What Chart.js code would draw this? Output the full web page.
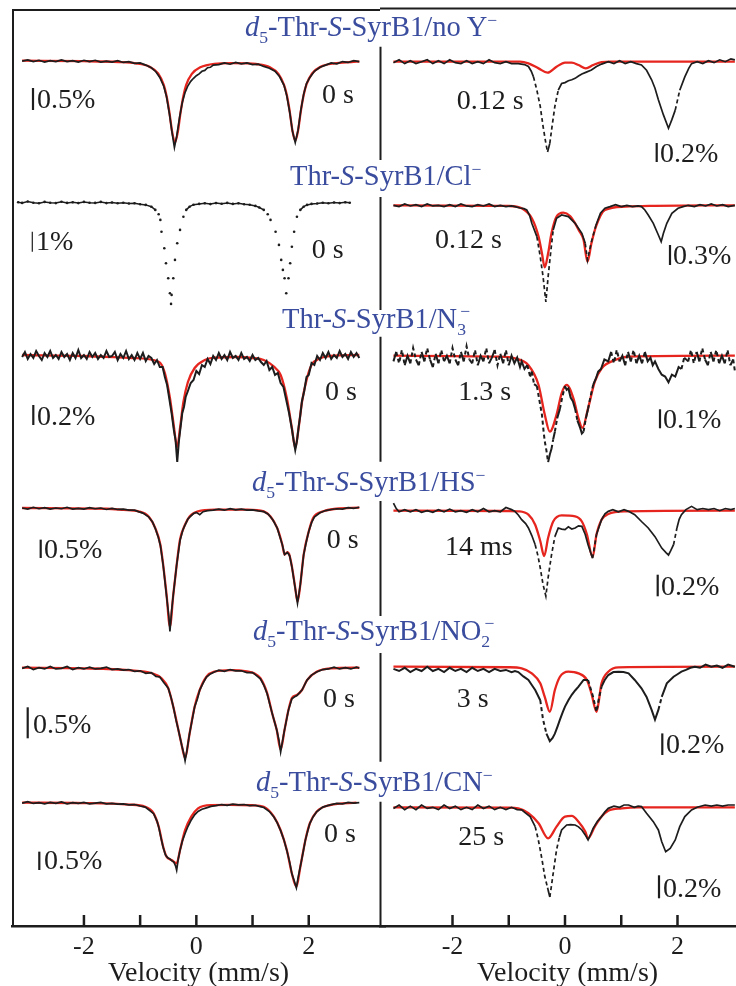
<!DOCTYPE html>
<html>
<head>
<meta charset="utf-8">
<title>Mossbauer spectra</title>
<script src="https://cdn.jsdelivr.net/npm/chart.js"></script>
<style>
  body { margin: 0; background: #fff; }
  #fig { position: relative; width: 736px; height: 986px; overflow: hidden; background: #fff; }
  canvas { position: absolute; top: 0; }
  .ttl { position: absolute; white-space: nowrap; font-family: "Liberation Serif"; font-size: 28.5px; line-height: 28px; color: #3a4c9e; }
  .ttl sub, .ttl sup { font-size: 0.62em; line-height: 0; }
</style>
</head>
<body>
<div id="fig">
  <canvas id="leftCol" width="389" height="990" style="left:0"></canvas>
  <canvas id="rightCol" width="385" height="990" style="left:370px"></canvas>
</div>
<script>
// x ticks (mm/s)
const velTicks = [-2, -1, 0, 1, 2];

// spectra as [velocity (mm/s), absorption (%)]
// left column, 0 s
const l1Data = [[-3.1,.01],[-3,-.02],[-2.9,.02],[-2.8,-.01],[-2.7,.03],[-2.6,0],[-2.5,.02],[-2.4,-.02],[-2.3,.02],[-2.2,0],[-2.1,.03],[-2,-.01],[-1.9,.02],[-1.8,-.01],[-1.7,.03],[-1.6,.01],[-1.5,.03],[-1.4,0],[-1.3,.04],[-1.2,.02],[-1.1,.06],[-1,.05],[-.9,.1],[-.8,.16],[-.72,.25],[-.65,.38],[-.58,.58],[-.53,.82],[-.48,1.2],[-.43,1.65],[-.39,1.97],[-.35,1.72],[-.3,1.3],[-.25,.95],[-.2,.72],[-.15,.57],[-.1,.47],[-.05,.4],[0,.34],[.05,.3],[.1,.24],[.15,.22],[.2,.16],[.25,.15],[.3,.1],[.4,.09],[.5,.05],[.6,.08],[.7,.04],[.8,.07],[.9,.05],[1,.09],[1.1,.08],[1.2,.13],[1.3,.17],[1.4,.24],[1.48,.36],[1.56,.56],[1.61,.8],[1.66,1.16],[1.71,1.6],[1.76,1.86],[1.81,1.58],[1.86,1.12],[1.91,.76],[1.96,.52],[2.02,.38],[2.1,.24],[2.2,.15],[2.3,.1],[2.4,.05],[2.5,.07],[2.6,.02],[2.7,.04],[2.8,0],[2.9,.02]];
const l1Fit = [[-3.1,0],[-2,.01],[-1.38,.03],[-1.08,.06],[-.83,.14],[-.68,.29],[-.58,.55],[-.53,.8],[-.48,1.17],[-.43,1.62],[-.38,1.86],[-.33,1.62],[-.28,1.17],[-.23,.8],[-.18,.55],[-.08,.3],[.07,.15],[.32,.07],[.62,.055],[.9,.06],[1.06,.075],[1.31,.15],[1.46,.3],[1.56,.55],[1.61,.78],[1.66,1.14],[1.71,1.59],[1.76,1.82],[1.81,1.59],[1.86,1.14],[1.91,.78],[1.96,.54],[2.06,.29],[2.21,.14],[2.46,.06],[2.76,.03],[2.9,.02]];

const l2Data = [[-3.17,0],[-3.1,.03],[-3,-.04],[-2.9,.02],[-2.8,.05],[-2.7,-.02],[-2.6,.02],[-2.5,.04],[-2.4,-.03],[-2.3,.03],[-2.2,0],[-2.1,.04],[-2,-.02],[-1.9,.02],[-1.8,.03],[-1.7,-.02],[-1.6,.04],[-1.5,.01],[-1.4,.05],[-1.3,.02],[-1.2,.06],[-1.1,.05],[-1,.1],[-.9,.13],[-.8,.22],[-.73,.38],[-.67,.6],[-.64,.88],[-.62,1.47],[-.57,2.3],[-.54,3.05],[-.5,3.8],[-.47,4.55],[-.45,5.08],[-.44,4.63],[-.41,3.8],[-.38,2.88],[-.34,2.05],[-.29,1.38],[-.23,.72],[-.18,.38],[-.12,.22],[-.05,.12],[.05,.08],[.15,.05],[.25,.09],[.35,.04],[.45,.07],[.55,.03],[.65,.08],[.75,.05],[.85,.1],[.95,.12],[1.05,.18],[1.12,.26],[1.2,.38],[1.27,.6],[1.32,.88],[1.41,1.47],[1.47,2.13],[1.51,2.88],[1.54,3.38],[1.57,3.8],[1.6,4.55],[1.64,3.8],[1.67,3.05],[1.7,2.22],[1.74,1.47],[1.79,.72],[1.85,.38],[1.91,.22],[1.97,.13],[2.05,.08],[2.15,.06],[2.25,.02],[2.35,.05],[2.45,.01],[2.55,.04],[2.65,0],[2.73,.02]];

const l3Data = [[-3.1,.02],[-3.05,-.03],[-3,.04],[-2.95,-.01],[-2.9,.03],[-2.85,-.04],[-2.8,.01],[-2.75,.05],[-2.7,-.02],[-2.65,.02],[-2.6,-.04],[-2.55,.03],[-2.5,0],[-2.45,.04],[-2.4,-.03],[-2.35,.02],[-2.3,-.01],[-2.25,.05],[-2.2,-.02],[-2.15,.03],[-2.1,-.05],[-2.05,.03],[-2,0],[-1.95,.04],[-1.9,-.03],[-1.85,.02],[-1.8,-.02],[-1.75,.04],[-1.7,0],[-1.65,.03],[-1.6,-.04],[-1.55,.02],[-1.5,.01],[-1.45,-.03],[-1.4,.05],[-1.35,-.01],[-1.3,.03],[-1.25,-.04],[-1.2,.04],[-1.15,0],[-1.1,.05],[-1.05,-.02],[-1,.04],[-.95,-.02],[-.9,.06],[-.85,.01],[-.8,.03],[-.75,.09],[-.7,.05],[-.65,.12],[-.6,.12],[-.56,.22],[-.52,.3],[-.48,.44],[-.44,.58],[-.4,.75],[-.37,.85],[-.34,1.07],[-.31,.86],[-.28,.72],[-.25,.58],[-.22,.52],[-.19,.42],[-.15,.36],[-.1,.28],[-.05,.25],[0,.16],[.05,.19],[.1,.1],[.15,.12],[.2,.04],[.25,.09],[.3,.01],[.35,.05],[.4,-.02],[.45,.04],[.5,0],[.55,.05],[.6,-.03],[.65,.03],[.7,.01],[.75,.05],[.8,-.02],[.85,.04],[.9,.02],[.95,.06],[1,0],[1.05,.05],[1.1,.03],[1.15,.07],[1.2,.1],[1.25,.06],[1.3,.15],[1.35,.12],[1.4,.2],[1.45,.18],[1.5,.28],[1.55,.32],[1.6,.45],[1.65,.58],[1.7,.74],[1.73,.85],[1.76,.95],[1.79,.86],[1.82,.72],[1.85,.6],[1.88,.46],[1.92,.36],[1.96,.22],[2,.2],[2.05,.08],[2.1,.1],[2.15,.01],[2.2,.05],[2.25,-.02],[2.3,.03],[2.35,-.03],[2.4,.04],[2.45,0],[2.5,.03],[2.55,-.04],[2.6,.02],[2.65,-.01],[2.7,.04],[2.75,-.03],[2.8,.02],[2.85,-.02],[2.9,.03]];
const l3Fit = [[-3.1,0],[-2,.01],[-1.14,.03],[-.67,.067],[-.56,.18],[-.47,.43],[-.41,.67],[-.34,.92],[-.29,.73],[-.23,.47],[-.15,.27],[-.03,.13],[.15,.05],[.32,.027],[.7,.02],[1,.03],[1.2,.05],[1.38,.117],[1.5,.2],[1.61,.43],[1.7,.73],[1.76,.93],[1.82,.73],[1.88,.47],[1.97,.23],[2.05,.1],[2.2,.033],[2.38,.01],[2.9,0]];

const l4Data = [[-3.1,0],[-3,.03],[-2.9,-.02],[-2.8,.02],[-2.7,-.01],[-2.6,.03],[-2.5,0],[-2.4,.02],[-2.3,-.02],[-2.2,.03],[-2.1,.01],[-2,.03],[-1.9,-.01],[-1.8,.02],[-1.7,0],[-1.6,.04],[-1.5,.01],[-1.4,.04],[-1.3,.03],[-1.2,.06],[-1.1,.06],[-1.03,.1],[-.95,.14],[-.85,.24],[-.78,.38],[-.73,.56],[-.68,.78],[-.64,1.02],[-.59,1.56],[-.53,2.4],[-.49,2.95],[-.47,3.36],[-.44,2.8],[-.41,2.36],[-.35,1.55],[-.29,.88],[-.24,.6],[-.2,.46],[-.15,.3],[-.1,.22],[-.05,.15],[0,.12],[.06,.18],[.12,.1],[.2,.07],[.3,.06],[.4,.03],[.5,.06],[.6,.02],[.7,.05],[.8,.03],[.9,.06],[1,.05],[1.1,.08],[1.2,.1],[1.28,.17],[1.36,.32],[1.44,.55],[1.5,.85],[1.53,1],[1.57,1.27],[1.62,1.21],[1.66,1.3],[1.7,1.6],[1.76,2.2],[1.8,2.6],[1.85,2.09],[1.91,1.27],[1.96,.9],[2,.64],[2.05,.4],[2.1,.25],[2.2,.13],[2.3,.07],[2.4,.04],[2.5,.02],[2.6,.03],[2.7,-.01],[2.8,.01],[2.9,-.02]];
const l4Fit = [[-3.1,0],[-1.6,.02],[-1.3,.05],[-1.03,.09],[-.85,.23],[-.73,.55],[-.64,1],[-.59,1.55],[-.53,2.36],[-.47,3.23],[-.41,2.36],[-.35,1.55],[-.29,.86],[-.2,.45],[-.12,.23],[.03,.09],[.32,.045],[.91,.045],[1.2,.09],[1.32,.23],[1.44,.55],[1.53,1],[1.57,1.27],[1.62,1.2],[1.65,1.25],[1.7,1.59],[1.76,2.18],[1.8,2.55],[1.85,2.09],[1.91,1.27],[2,.64],[2.08,.27],[2.26,.09],[2.49,.02],[2.9,-.01]];

const l5Data = [[-3.1,.01],[-3,-.02],[-2.9,.03],[-2.8,0],[-2.7,.02],[-2.6,-.02],[-2.5,.02],[-2.4,.01],[-2.3,-.02],[-2.2,.03],[-2.1,0],[-2,.02],[-1.9,-.01],[-1.8,.02],[-1.7,.01],[-1.6,-.01],[-1.5,.03],[-1.4,.02],[-1.3,.04],[-1.2,.03],[-1.1,.06],[-1,.05],[-.9,.09],[-.8,.08],[-.72,.14],[-.65,.15],[-.58,.24],[-.5,.33],[-.45,.48],[-.41,.63],[-.36,.85],[-.32,1],[-.26,1.25],[-.22,1.4],[-.2,1.5],[-.17,1.35],[-.12,1.06],[-.07,.82],[-.03,.63],[.02,.5],[.06,.36],[.12,.25],[.18,.15],[.25,.1],[.32,.07],[.4,.04],[.5,.06],[.6,.03],[.7,.05],[.8,.05],[.9,.08],[1,.08],[1.06,.12],[1.14,.18],[1.2,.28],[1.26,.42],[1.31,.6],[1.35,.74],[1.43,1],[1.47,1.17],[1.5,1.36],[1.53,1.2],[1.57,1],[1.64,.68],[1.7,.5],[1.75,.47],[1.79,.45],[1.84,.4],[1.88,.36],[1.93,.27],[1.97,.2],[2.05,.12],[2.14,.07],[2.25,.03],[2.35,.02],[2.45,-.01],[2.55,.02],[2.65,0],[2.75,.02],[2.85,-.01],[2.9,.01]];
const l5Fit = [[-3.1,0],[-2,.01],[-1.2,.04],[-.79,.09],[-.62,.17],[-.5,.33],[-.41,.63],[-.32,1],[-.26,1.25],[-.2,1.46],[-.12,1.06],[-.03,.63],[.06,.36],[.18,.145],[.32,.065],[.62,.04],[.9,.06],[1.03,.09],[1.14,.17],[1.26,.41],[1.35,.74],[1.43,1],[1.5,1.32],[1.57,1],[1.64,.68],[1.7,.49],[1.79,.44],[1.88,.36],[1.97,.2],[2.14,.065],[2.38,.01],[2.9,0]];

const l6Data = [[-3.1,.01],[-3,-.03],[-2.9,.02],[-2.8,0],[-2.7,.03],[-2.6,-.01],[-2.5,.02],[-2.4,-.02],[-2.3,.03],[-2.2,0],[-2.1,.02],[-2,-.01],[-1.9,.03],[-1.8,.01],[-1.7,-.01],[-1.6,.03],[-1.5,.02],[-1.4,.04],[-1.3,.03],[-1.2,.06],[-1.1,.05],[-1,.09],[-.91,.12],[-.84,.2],[-.76,.3],[-.7,.5],[-.67,.66],[-.63,.95],[-.59,1.22],[-.55,1.42],[-.51,1.5],[-.47,1.53],[-.44,1.58],[-.4,1.62],[-.37,1.72],[-.35,1.84],[-.32,1.52],[-.29,1.3],[-.25,1.05],[-.2,.84],[-.15,.65],[-.09,.47],[-.03,.33],[.03,.24],[.1,.18],[.18,.14],[.26,.1],[.35,.08],[.45,.05],[.55,.07],[.65,.04],[.75,.06],[.85,.05],[.95,.08],[1.05,.07],[1.12,.1],[1.2,.13],[1.3,.24],[1.38,.39],[1.44,.55],[1.5,.76],[1.56,1.02],[1.61,1.3],[1.66,1.62],[1.7,1.94],[1.74,2.12],[1.78,2.32],[1.81,2.05],[1.85,1.74],[1.9,1.35],[1.94,1.02],[1.98,.78],[2.02,.56],[2.08,.38],[2.14,.25],[2.25,.12],[2.38,.06],[2.5,.02],[2.6,.03],[2.7,-.01],[2.8,.01],[2.9,0]];
const l6Fit = [[-3.1,0],[-2,.01],[-1.2,.05],[-.91,.11],[-.76,.29],[-.67,.65],[-.59,1.2],[-.53,1.47],[-.44,1.56],[-.35,1.65],[-.29,1.29],[-.2,.75],[-.09,.38],[.03,.155],[.26,.064],[.6,.06],[1,.07],[1.2,.11],[1.38,.38],[1.5,.75],[1.61,1.29],[1.7,1.93],[1.78,2.29],[1.85,1.75],[1.94,1.02],[2.02,.56],[2.14,.245],[2.38,.064],[2.85,0]];

// right column, freeze-quenched
const r1Data = [[-3.05,.01],[-2.95,-.02],[-2.85,.02],[-2.75,-.01],[-2.65,.02],[-2.55,0],[-2.45,-.02],[-2.35,.02],[-2.25,-.01],[-2.15,.02],[-2.05,-.02],[-1.95,.01],[-1.85,.02],[-1.75,-.01],[-1.65,.02],[-1.55,0],[-1.45,.02],[-1.35,-.02],[-1.25,.01],[-1.15,.02],[-1.05,0],[-.95,.02],[-.83,.02],[-.72,.03],[-.65,.05],[-.6,.1],[-.56,.16],[-.5,.3],[-.44,.47],[-.39,.68],[-.34,.86],[-.31,.95],[-.27,.86],[-.23,.68],[-.18,.47],[-.12,.3],[-.06,.23],[0,.22],[.06,.2],[.12,.19],[.18,.175],[.24,.15],[.3,.13],[.38,.11],[.47,.088],[.56,.05],[.65,.025],[.77,0],[.87,.02],[.97,-.01],[1.07,.02],[1.17,0],[1.27,.02],[1.36,.035],[1.45,.09],[1.54,.19],[1.6,.28],[1.66,.4],[1.75,.56],[1.84,.7],[1.9,.61],[1.96,.51],[2.04,.3],[2.13,.16],[2.2,.07],[2.25,.02],[2.35,0],[2.45,.02],[2.55,-.01],[2.65,.01],[2.75,-.02],[2.85,0],[2.95,-.03],[3.02,-.02]];
const r1Fit = [[-3.05,0],[-.8,0],[-.65,.018],[-.47,.07],[-.31,.116],[-.15,.053],[0,.01],[.12,.01],[.24,.035],[.37,.07],[.5,.035],[.65,.004],[.8,0],[3.02,0]];

const r2Data = [[-3.05,0],[-2.95,.02],[-2.85,-.02],[-2.75,.01],[-2.65,-.01],[-2.55,.02],[-2.45,-.02],[-2.35,.01],[-2.25,0],[-2.15,.02],[-2.05,-.01],[-1.95,.02],[-1.85,-.02],[-1.75,.01],[-1.65,.02],[-1.55,-.01],[-1.45,.01],[-1.35,-.02],[-1.25,.02],[-1.15,0],[-1.05,.02],[-.95,.01],[-.89,.02],[-.8,.04],[-.73,.05],[-.68,.07],[-.63,.15],[-.59,.27],[-.5,.47],[-.44,.77],[-.39,1.07],[-.34,1.45],[-.3,1.07],[-.25,.67],[-.21,.37],[-.15,.195],[-.06,.145],[.06,.17],[.18,.27],[.3,.42],[.36,.57],[.4,.82],[.47,.545],[.55,.3],[.63,.12],[.71,.045],[.8,.02],[.9,-.01],[1,.02],[1.1,0],[1.2,.02],[1.3,.01],[1.36,.02],[1.42,.07],[1.48,.145],[1.57,.27],[1.66,.445],[1.71,.545],[1.75,.42],[1.81,.27],[1.9,.12],[2.01,.045],[2.1,.02],[2.19,0],[2.3,.02],[2.4,-.01],[2.5,.01],[2.6,-.02],[2.7,.01],[2.8,-.01],[2.9,.02],[3.02,0]];
const r2Fit = [[-3.05,0],[-1,.01],[-.77,.045],[-.59,.195],[-.47,.47],[-.41,.72],[-.36,.93],[-.3,.72],[-.24,.42],[-.15,.17],[-.03,.11],[.09,.16],[.18,.27],[.25,.38],[.33,.52],[.4,.845],[.47,.57],[.55,.32],[.71,.07],[1.07,.02],[1.5,.01],[3.02,0]];

const r3Data = [[-3.05,.03],[-3,-.02],[-2.95,.04],[-2.9,-.03],[-2.85,.05],[-2.8,0],[-2.75,.04],[-2.7,-.04],[-2.65,.02],[-2.6,.05],[-2.55,-.02],[-2.5,.03],[-2.45,-.04],[-2.4,.02],[-2.35,.06],[-2.3,-.01],[-2.25,.04],[-2.2,-.03],[-2.15,.03],[-2.1,0],[-2.05,.04],[-2,-.04],[-1.95,.02],[-1.9,.05],[-1.85,-.02],[-1.8,.03],[-1.75,-.05],[-1.7,.02],[-1.65,.04],[-1.6,-.03],[-1.55,.05],[-1.5,0],[-1.45,.03],[-1.4,-.04],[-1.35,.04],[-1.3,.01],[-1.25,-.03],[-1.2,.05],[-1.15,-.01],[-1.1,.04],[-1.05,-.03],[-1,.05],[-.95,0],[-.9,.04],[-.85,.01],[-.8,.06],[-.77,.03],[-.72,.07],[-.67,.05],[-.62,.11],[-.59,.084],[-.55,.15],[-.5,.16],[-.47,.21],[-.44,.26],[-.41,.31],[-.38,.4],[-.36,.45],[-.33,.5],[-.3,.56],[-.27,.52],[-.24,.49],[-.21,.44],[-.18,.4],[-.14,.33],[-.09,.28],[-.05,.22],[0,.16],[.03,.18],[.06,.172],[.1,.22],[.14,.24],[.18,.28],[.22,.34],[.27,.38],[.3,.41],[.33,.4],[.37,.33],[.41,.28],[.45,.22],[.5,.154],[.55,.12],[.59,.084],[.64,.07],[.7,.02],[.77,.03],[.82,-.02],[.87,.04],[.92,-.03],[.97,.03],[1.02,0],[1.07,.05],[1.12,-.02],[1.17,.03],[1.22,-.03],[1.27,.04],[1.32,0],[1.37,.04],[1.42,-.02],[1.47,.03],[1.52,.01],[1.56,.05],[1.6,.03],[1.66,.07],[1.72,.1],[1.78,.11],[1.84,.14],[1.9,.1],[1.96,.11],[2.02,.06],[2.07,.07],[2.12,.01],[2.19,.03],[2.24,-.03],[2.29,.04],[2.34,-.02],[2.39,.03],[2.44,-.04],[2.49,.02],[2.54,.05],[2.59,-.02],[2.64,.03],[2.69,-.03],[2.74,.04],[2.79,0],[2.84,.04],[2.89,-.03],[2.94,.05],[2.99,.02],[3.02,.08]];
const r3Fit = [[-3.05,0],[-1.2,.005],[-.89,.014],[-.65,.05],[-.47,.154],[-.36,.31],[-.27,.4],[-.15,.31],[-.06,.198],[.03,.154],[.15,.225],[.24,.33],[.31,.38],[.41,.277],[.53,.137],[.65,.067],[.89,.023],[1.13,.005],[3.02,0]];

const r4Data = [[-3.05,-.07],[-3,-.02],[-2.95,.01],[-2.85,-.01],[-2.75,.01],[-2.65,-.01],[-2.55,.015],[-2.45,0],[-2.35,.015],[-2.25,-.01],[-2.15,.01],[-2.05,-.015],[-1.95,.01],[-1.85,0],[-1.75,.015],[-1.65,-.01],[-1.55,.01],[-1.45,-.02],[-1.35,.01],[-1.25,0],[-1.15,.01],[-1.05,-.03],[-.95,-.01],[-.89,.006],[-.83,.04],[-.77,.083],[-.7,.12],[-.65,.16],[-.59,.23],[-.53,.315],[-.48,.42],[-.44,.53],[-.39,.685],[-.34,.79],[-.3,.62],[-.24,.41],[-.18,.24],[-.12,.16],[-.06,.17],[0,.176],[.06,.15],[.12,.17],[.18,.16],[.24,.14],[.3,.145],[.36,.22],[.41,.315],[.49,.44],[.56,.22],[.65,.083],[.71,.03],[.77,.006],[.85,-.01],[.95,.01],[1.05,-.01],[1.13,.006],[1.24,.037],[1.36,.1],[1.48,.16],[1.6,.24],[1.72,.346],[1.8,.39],[1.84,.41],[1.88,.37],[1.93,.315],[1.99,.16],[2.03,.08],[2.07,.037],[2.15,-.01],[2.25,-.04],[2.35,-.01],[2.45,-.02],[2.55,-.01],[2.65,-.02],[2.75,0],[2.85,-.02],[2.95,-.01],[3.02,-.02]];
const r4Fit = [[-3.05,0],[-1,.003],[-.83,.006],[-.65,.037],[-.53,.13],[-.44,.28],[-.37,.42],[-.3,.25],[-.21,.1],[-.06,.043],[.18,.052],[.3,.1],[.39,.22],[.49,.43],[.56,.22],[.65,.083],[.77,.03],[1.07,.006],[3.02,0]];

const r5Data = [[-3.05,.02],[-2.95,.04],[-2.85,.01],[-2.75,.05],[-2.65,.02],[-2.55,.04],[-2.45,0],[-2.35,.04],[-2.25,.02],[-2.15,.05],[-2.05,.01],[-1.95,.04],[-1.85,.02],[-1.75,.05],[-1.65,.01],[-1.55,.04],[-1.45,.02],[-1.35,.05],[-1.25,.02],[-1.15,.04],[-1.05,.03],[-.95,.05],[-.89,.04],[-.83,.05],[-.74,.09],[-.65,.123],[-.59,.17],[-.53,.216],[-.44,.31],[-.39,.49],[-.33,.62],[-.27,.69],[-.22,.66],[-.18,.62],[-.13,.55],[-.09,.49],[-.04,.42],[0,.37],[.06,.31],[.12,.26],[.18,.22],[.24,.185],[.33,.123],[.41,.123],[.5,.28],[.56,.417],[.6,.3],[.65,.185],[.71,.12],[.77,.077],[.86,.05],[.95,.046],[1.04,.05],[1.13,.062],[1.24,.123],[1.36,.2],[1.45,.28],[1.54,.4],[1.6,.49],[1.66,.4],[1.72,.28],[1.81,.154],[1.93,.093],[2,.07],[2.07,.046],[2.15,.03],[2.23,.01],[2.31,0],[2.4,.01],[2.5,-.02],[2.6,0],[2.7,-.01],[2.8,.01],[2.9,-.02],[3.02,0]];
const r5Fit = [[-3.05,0],[-1,.005],[-.77,.015],[-.59,.062],[-.44,.154],[-.36,.28],[-.27,.417],[-.18,.216],[-.09,.093],[.06,.046],[.24,.062],[.39,.123],[.47,.247],[.56,.417],[.65,.154],[.77,.046],[.95,.006],[3.02,0]];

const r6Data = [[-3.05,.01],[-2.95,-.02],[-2.85,.02],[-2.75,-.01],[-2.65,.02],[-2.55,-.02],[-2.45,.01],[-2.35,0],[-2.25,.02],[-2.15,-.02],[-2.05,.01],[-1.95,-.01],[-1.85,.02],[-1.75,0],[-1.65,.02],[-1.55,-.02],[-1.45,.01],[-1.35,-.01],[-1.25,.02],[-1.15,0],[-1.05,.02],[-.95,0],[-.85,.02],[-.77,.023],[-.7,.05],[-.62,.081],[-.53,.168],[-.48,.27],[-.44,.37],[-.4,.48],[-.36,.6],[-.31,.7],[-.27,.78],[-.24,.68],[-.21,.574],[-.15,.37],[-.1,.26],[-.06,.197],[.03,.154],[.1,.15],[.18,.154],[.24,.17],[.3,.197],[.36,.24],[.41,.284],[.46,.23],[.5,.183],[.58,.12],[.65,.081],[.71,.04],[.77,.009],[.87,-.01],[.97,0],[1.05,-.02],[1.13,-.02],[1.23,0],[1.3,-.01],[1.36,-.006],[1.45,.052],[1.57,.125],[1.66,.197],[1.72,.3],[1.79,.386],[1.87,.357],[1.96,.284],[2.04,.168],[2.13,.081],[2.25,.023],[2.35,0],[2.49,-.02],[2.6,-.01],[2.7,-.02],[2.8,-.01],[2.9,-.02],[3.02,-.02]];
const r6Fit = [[-3.05,0],[-1,.003],[-.83,.009],[-.65,.052],[-.47,.139],[-.3,.27],[-.15,.168],[0,.081],[.12,.075],[.24,.125],[.36,.21],[.41,.27],[.53,.168],[.65,.081],[.77,.029],[1.01,.009],[1.3,0],[3.02,0]];

// scale bars (%) and labels
const leftBars = [0.5, 1, 0.2, 0.5, 0.5, 0.5];
const rightBars = [0.2, 0.3, 0.1, 0.2, 0.2, 0.2];
const leftTimes = ['0 s', '0 s', '0 s', '0 s', '0 s', '0 s'];
const rightTimes = ['0.12 s', '0.12 s', '1.3 s', '14 ms', '3 s', '25 s'];
const titles = [
  '<i>d</i><sub>5</sub>-Thr-<i>S</i>-SyrB1/no Y<sup>\u2212</sup>',
  'Thr-<i>S</i>-SyrB1/Cl<sup>\u2212</sup>',
  'Thr-<i>S</i>-SyrB1/N<sub>3</sub><sup style="margin-left:-.32em">\u2212</sup>',
  '<i>d</i><sub>5</sub>-Thr-<i>S</i>-SyrB1/HS<sup>\u2212</sup>',
  '<i>d</i><sub>5</sub>-Thr-<i>S</i>-SyrB1/NO<sub>2</sub><sup style="margin-left:-.32em">\u2212</sup>',
  '<i>d</i><sub>5</sub>-Thr-<i>S</i>-SyrB1/CN<sup>\u2212</sup>'
];

// layout: baseline (page px), px per %, label spots
const leftLayout = [
  { base: 60.7, k: 44, timeAt: [322, 103.3], barAt: [33, 110, 37, 108.3] },
  { base: 202.3, k: 20, timeAt: [311.7, 258], barAt: [32.3, 251.7, 36, 250], dots: true, thin: true },
  { base: 355, k: 100, timeAt: [325, 400], barAt: [33.3, 425, 37, 425], noisy: true },
  { base: 508, k: 36.7, timeAt: [326.7, 548], barAt: [40.7, 558, 44, 558] },
  { base: 667.7, k: 62, timeAt: [323, 706.7], barAt: [27.7, 738.3, 33, 733.3] },
  { base: 802.7, k: 36.7, timeAt: [324, 842], barAt: [39.3, 870, 44, 869.3] }
];
const rightLayout = [
  { base: 61.7, k: 95, timeAt: [456.7, 109], barAt: [656.7, 162, 660, 161.7] },
  { base: 205.3, k: 66.7, timeAt: [435, 248], barAt: [670, 265, 673, 264] },
  { base: 355.7, k: 190, timeAt: [458.3, 400], barAt: [660, 428.3, 663, 428.3], noisy: true },
  { base: 510.7, k: 108, timeAt: [445, 554.7], barAt: [657.7, 596.3, 661, 595.3] },
  { base: 666.7, k: 108, timeAt: [456.7, 706.7], barAt: [662.3, 755, 666, 753.3], noisy: true },
  { base: 807.3, k: 115, timeAt: [458.3, 845], barAt: [659, 898.3, 663, 897.3] }
];
const titleAt = [[245, 36], [290, 185], [282, 328], [252, 491], [253, 640], [256, 791]];
const dividerGaps = [[46.7, 160], [197, 310], [336.7, 461.7], [501, 616], [653, 761.7], [801.7, 926]];

const leftSpectra = [[l1Data, l1Fit], [l2Data, null], [l3Data, l3Fit], [l4Data, l4Fit], [l5Data, l5Fit], [l6Data, l6Fit]];
const rightSpectra = [[r1Data, r1Fit], [r2Data, r2Fit], [r3Data, r3Fit], [r4Data, r4Fit], [r5Data, r5Fit], [r6Data, r6Fit]];

const INK = '#1d1d1d';
const RED = '#e5251e';
const serif = '"Liberation Serif", "Times New Roman", serif';

function toXY(arr, p) {
  return arr.map(([v, a]) => ({ x: v, y: p.base + a * p.k }));
}

function steep(ctx) {
  return Math.abs(ctx.p1.y - ctx.p0.y) > 2.5 * Math.abs(ctx.p1.x - ctx.p0.x) + 4;
}

function buildDatasets(spectra, layout, dashed) {
  const ds = [];
  spectra.forEach(([data, fit], i) => {
    const p = layout[i];
    const black = {
      data: toXY(data, p), showLine: true, borderColor: INK, borderWidth: p.noisy ? 2 : 1.7,
      pointRadius: 0, tension: 0, order: 0
    };
    if (p.dots) {
      black.borderWidth = 1.5;
      black.pointRadius = 1.3;
      black.pointBorderWidth = 0;
      black.pointBackgroundColor = INK;
      black.segment = { borderColor: ctx => Math.abs(ctx.p1.y - ctx.p0.y) > 4 ? 'rgba(0,0,0,0)' : undefined };
    } else if (dashed) {
      black.segment = { borderDash: ctx => steep(ctx) ? [4, 3] : undefined };
    }
    ds.push(black);
    if (fit) {
      ds.push({
        data: toXY(fit, p), showLine: true, borderColor: RED, borderWidth: 2.3,
        pointRadius: 0, cubicInterpolationMode: 'monotone', order: 1
      });
    }
  });
  return ds;
}

function overlay(name, layout, bars, times, canvasLeft, isRight) {
  return {
    id: name,
    afterDraw(chart) {
      const { ctx, chartArea: a, scales: { x, y } } = chart;
      ctx.save();
      ctx.strokeStyle = INK;
      ctx.lineWidth = 2.5;
      velTicks.forEach(v => {
        const px = x.getPixelForValue(v);
        ctx.beginPath(); ctx.moveTo(px, a.bottom); ctx.lineTo(px, a.bottom - 11); ctx.stroke();
      });
      ctx.lineWidth = 2;
      ctx.beginPath();
      if (isRight) {
        ctx.moveTo(a.left, 8.5); ctx.lineTo(chart.width, 8.5);
        dividerGaps.forEach(([y0, y1]) => { ctx.moveTo(a.left + 0.5, y0); ctx.lineTo(a.left + 0.5, y1); });
      } else {
        ctx.moveTo(a.left, 10); ctx.lineTo(380 - canvasLeft, 10);
        ctx.moveTo(a.left + 1, 10); ctx.lineTo(a.left + 1, a.bottom);
      }
      ctx.stroke();
      ctx.fillStyle = INK;
      ctx.font = '28px ' + serif;
      ctx.textBaseline = 'alphabetic';
      ctx.textAlign = 'left';
      layout.forEach((p, i) => {
        ctx.fillText(times[i], p.timeAt[0] - canvasLeft, p.timeAt[1]);
        const [bx, bb, tx, tb] = p.barAt;
        ctx.lineWidth = p.thin ? 1.2 : 2.2;
        ctx.beginPath();
        ctx.moveTo(bx - canvasLeft, y.getPixelForValue(bb - bars[i] * p.k));
        ctx.lineTo(bx - canvasLeft, y.getPixelForValue(bb));
        ctx.stroke();
        ctx.fillText(bars[i] + '%', tx - canvasLeft, tb);
      });
      ctx.restore();
    }
  };
}

function makeChart(id, spectra, layout, bars, times, xmin, xmax, padLeft, canvasLeft, isRight) {
  return new Chart(document.getElementById(id), {
    type: 'scatter',
    data: { datasets: buildDatasets(spectra, layout, isRight) },
    options: {
      responsive: false,
      animation: false,
      devicePixelRatio: 1,
      layout: { padding: { left: padLeft, top: 10, right: 0, bottom: 0 } },
      plugins: { legend: { display: false }, tooltip: { enabled: false } },
      scales: {
        x: {
          type: 'linear', min: xmin, max: xmax,
          afterBuildTicks: s => { s.ticks = velTicks.map(v => ({ value: v })); },
          afterFit: s => { s.height = 64; },
          grid: { display: false, drawTicks: false },
          border: { color: INK, width: 2.5 },
          ticks: {
            autoSkip: false, maxRotation: 0, padding: 6, color: INK,
            font: { family: serif, size: 26 },
            callback: v => (v % 2 === 0 ? String(v) : '')
          },
          title: {
            display: true, text: 'Velocity (mm/s)', color: INK,
            font: { family: serif, size: 28 }, padding: { top: 0, bottom: 0 }
          }
        },
        y: { display: false, min: 10, max: 926, reverse: true }
      }
    },
    plugins: [overlay(id + 'Overlay', layout, bars, times, canvasLeft, isRight)]
  });
}

// left: 0 mm/s at x=198.3, 56.8 px per mm/s; right: 0 at x=565, 56.25 px per mm/s
makeChart('leftCol', leftSpectra, leftLayout, leftBars, leftTimes, -3.28, 3.357, 12, 0, false);
makeChart('rightCol', rightSpectra, rightLayout, rightBars, rightTimes, -3.289, 3.378, 10, 370, true);

const fig = document.getElementById('fig');
titles.forEach((html, i) => {
  const d = document.createElement('div');
  d.className = 'ttl';
  d.innerHTML = html;
  d.style.left = titleAt[i][0] + 'px';
  d.style.top = (titleAt[i][1] - 23.4) + 'px';
  fig.appendChild(d);
});
</script>
</body>
</html>
